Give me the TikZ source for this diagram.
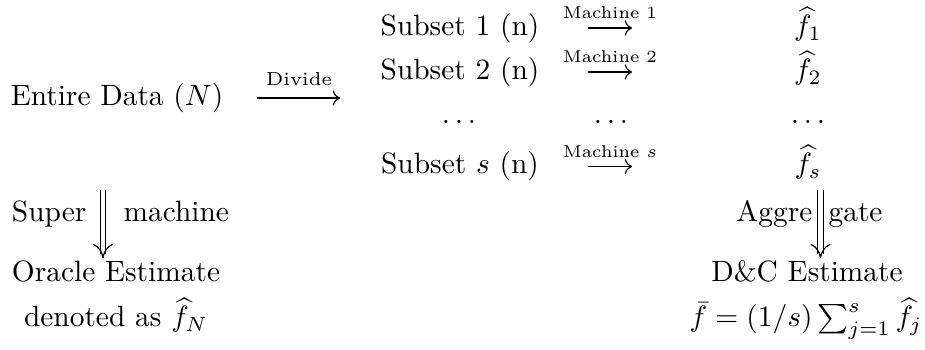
\documentclass[tikz,border=0pt]{standalone}
\usetikzlibrary{arrows.meta,calc}
\begin{document}
\begin{tikzpicture}[x=0.34pt, y=-0.34pt,
  txt/.style={inner sep=0pt, anchor=base},
  lbl/.style={inner sep=0pt, anchor=base, font=\fontsize{6.4}{7}\selectfont},
  mlbl/.style={inner sep=0pt, anchor=base, font=\fontsize{5.8}{7}\selectfont},
  harrow/.style={-{To}, line width=0.4pt},
  dline/.style={double, double distance=1.5pt, line width=0.4pt, shorten >=1.4pt},
  dhead/.style={line width=0.4pt, -{Computer Modern Rightarrow[length=4.8pt,width=6.8pt]}}]
\useasboundingbox (0,0) rectangle (925,350);
% left column
\node[txt] (entire) at (117,106) {Entire Data ($N$)};
\node[txt] (oracle) at (116,282) {Oracle Estimate};
\node[txt] (denoted) at (116,327) {denoted as $\widehat{f}_N$};
% divide arrow
\coordinate (dA) at (257,98);
\coordinate (dB) at (340,98);
\draw[harrow] (dA) -- (dB);
\node[lbl] (divide) at (299,86) {Divide};
% subsets
\node[txt] (s1) at (460,36) {Subset 1 (n)};
\node[txt] (s2) at (460,80) {Subset 2 (n)};
\node[txt] (sd) at (459,124) {$\dots$};
\node[txt] (ss) at (460,174) {Subset $s$ (n)};
% machine arrows
\coordinate (m1a) at (588,28);  \coordinate (m1b) at (632,28);
\coordinate (m2a) at (588,72);  \coordinate (m2b) at (632,72);
\coordinate (msa) at (588,166.5); \coordinate (msb) at (632,166.5);
\draw[harrow] (m1a) -- (m1b);
\draw[harrow] (m2a) -- (m2b);
\draw[harrow] (msa) -- (msb);
\node[mlbl] (l1) at (610,19) {Machine 1};
\node[mlbl] (l2) at (610,63) {Machine 2};
\node[mlbl] (ls) at (610,157.5) {Machine $s$};
\node[txt] (md) at (611,124) {$\dots$};
% estimates
\node[txt] (f1) at (808,36) {$\widehat{f}_1$};
\node[txt] (f2) at (808,80) {$\widehat{f}_2$};
\node[txt] (fd) at (808,124) {$\dots$};
\node[txt] (fs) at (808,174) {$\widehat{f}_s$};
\node[txt] (dc) at (807,282) {D\&C Estimate};
\node[txt] (fbar) at (806,327) {$\bar{f}=(1/s)\sum_{j=1}^{s}\widehat{f}_j$};
% vertical double arrows
\coordinate (vLa) at (103,190); \coordinate (vLb) at (103,258);
\coordinate (vRa) at (820.5,190); \coordinate (vRb) at (820.5,258);
\draw[dline] (vLa) -- (vLb);
\draw[dhead] ($(vLb)+(0,-0.2)$) -- (vLb);
\draw[dline] (vRa) -- (vRb);
\draw[dhead] ($(vRb)+(0,-0.2)$) -- (vRb);
\node[txt, anchor=base east] (super) at (87,222) {Super};
\node[txt, anchor=base west] (mach) at (123,222) {machine};
\node[txt, anchor=base east] (aggre) at (813,222) {Aggre};
\node[txt, anchor=base west] (gate) at (828,222) {gate};
\end{tikzpicture}
\end{document}
